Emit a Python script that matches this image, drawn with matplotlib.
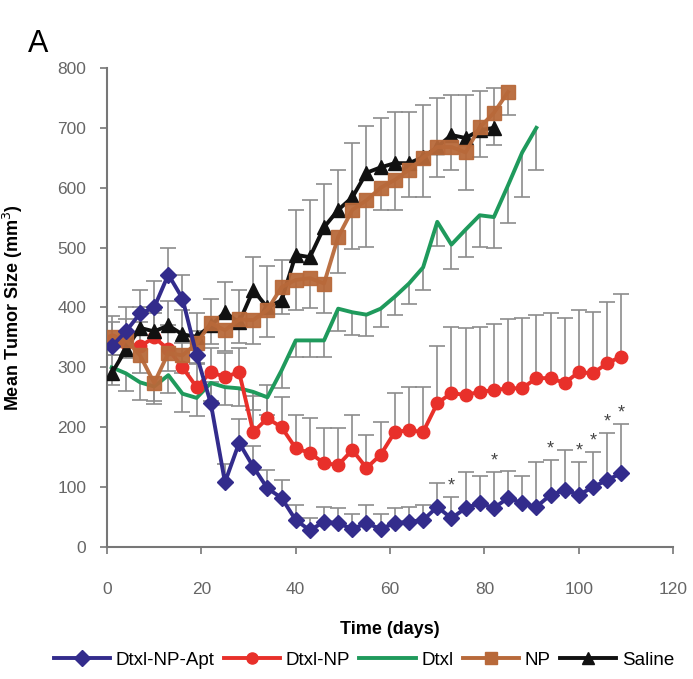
import matplotlib

matplotlib.use("Agg")
import matplotlib.pyplot as plt
from matplotlib.lines import Line2D
import numpy as np

plt.rcParams["font.family"] = ["Liberation Sans", "DejaVu Sans"]

# measurement days (every ~3 days)
days_apt = [1, 4, 7, 10, 13, 16, 19, 22, 25, 28, 31, 34, 37, 40, 43, 46, 49, 52, 55,
            58, 61, 64, 67, 70, 73, 76, 79, 82, 85, 88, 91, 94, 97, 100, 103, 106, 109]
days_np_dtxl = days_apt
days_dtxl = days_apt[:31]
days_saline = days_apt[:28]
days_np = days_apt[:29]

# Dtxl-NP-Apt (error bars up)
apt = [335, 360, 390, 400, 455, 415, 320, 240, 108, 174, 134, 98, 82, 45, 28, 42, 40, 30, 40,
       30, 40, 42, 45, 67, 48, 65, 73, 65, 82, 73, 67, 87, 95, 87, 100, 112, 123]
apt_err = [40, 40, 40, 45, 45, 40, 40, 35, 30, 40, 35, 30, 30, 25, 20, 25, 25, 25, 30,
           25, 25, 25, 25, 40, 35, 60, 45, 60, 45, 45, 75, 58, 67, 55, 59, 78, 82]

# Dtxl-NP (error bars up)
dtxl_np = [345, 340, 335, 350, 330, 300, 267, 292, 284, 292, 192, 215, 200, 165, 157, 140, 137,
           162, 132, 154, 192, 195, 192, 240, 257, 254, 259, 262, 265, 265, 282, 282, 274, 292,
           290, 307, 318]
dtxl_np_err = [40, 40, 40, 40, 40, 40, 40, 40, 40, 40, 60, 55, 50, 55, 58, 58, 61, 58, 55,
               55, 65, 72, 75, 95, 110, 112, 108, 110, 115, 118, 105, 108, 108, 103, 102, 102, 105]

# Dtxl (error bars down)
dtxl = [300, 290, 275, 268, 287, 256, 249, 274, 267, 265, 259, 250, 295, 345, 345, 345, 398,
        392, 388, 398, 418, 440, 467, 543, 505, 530, 554, 551, 604, 659, 700]
dtxl_err = [30, 30, 30, 30, 30, 30, 30, 30, 30, 30, 30, 30, 30, 28, 28, 28, 38, 38, 35, 30,
            30, 35, 38, 40, 40, 45, 53, 52, 63, 75, 71]

# NP (error bars down)
np_vals = [351, 346, 320, 274, 324, 320, 340, 374, 362, 380, 379, 396, 434, 446, 449, 440, 518,
           563, 579, 600, 613, 630, 650, 668, 668, 659, 701, 725, 760]
np_err = [30, 30, 30, 30, 30, 30, 35, 35, 35, 40, 40, 45, 45, 50, 50, 50, 60, 65, 78, 37, 50,
          46, 66, 50, 39, 63, 50, 54, 39]

# Saline (error bars up)
saline = [290, 330, 366, 360, 370, 355, 351, 370, 392, 375, 429, 400, 412, 488, 484, 534, 563,
          584, 625, 634, 641, 641, 651, 668, 688, 683, 696, 700]
saline_err = [30, 30, 35, 35, 40, 40, 40, 45, 50, 55, 55, 70, 67, 75, 95, 73, 66, 90, 78, 82,
              85, 85, 87, 82, 67, 72, 65, 66]

star_days = [73, 82, 94, 100, 103, 106, 109]

C_APT = "#332c8c"
C_DNP = "#e8302a"
C_DTXL = "#1f9a5c"
C_NP = "#b8693a"
C_SAL = "#111111"
C_ERR = "#8c8c8c"


def err_bars(ax, x, y, e, up=True):
    x = np.asarray(x, float)
    y = np.asarray(y, float)
    e = np.asarray(e, float)
    end = y + e if up else y - e
    ax.vlines(x, y, end, color=C_ERR, lw=1.2, zorder=1)
    ax.plot(x, end, ls="none", marker="_", ms=11, mew=1.2, color=C_ERR, zorder=1)


fig = plt.figure(figsize=(6.93, 6.79), dpi=100)
ax = fig.add_axes([0.1544, 0.1944, 0.817, 0.7055])

err_bars(ax, days_dtxl, dtxl, dtxl_err, up=False)
err_bars(ax, days_np, np_vals, np_err, up=False)
err_bars(ax, days_saline, saline, saline_err, up=True)
err_bars(ax, days_np_dtxl, dtxl_np, dtxl_np_err, up=True)
err_bars(ax, days_apt, apt, apt_err, up=True)

ax.plot(days_dtxl, dtxl, color=C_DTXL, lw=2.8, zorder=3)
ax.plot(days_np_dtxl, dtxl_np, color=C_DNP, lw=2.8, marker="o", ms=9, zorder=4)
ax.plot(days_saline, saline, color=C_SAL, lw=2.8, marker="^", ms=10, zorder=5)
ax.plot(days_np, np_vals, color=C_NP, lw=2.8, marker="s", ms=10, zorder=5, alpha=0.95)
ax.plot(days_apt, apt, color=C_APT, lw=2.8, marker="D", ms=8.5, zorder=6)

for d in star_days:
    i = days_apt.index(d)
    ax.text(d, apt[i] + apt_err[i] + 4, "*", ha="center", va="bottom",
            fontsize=13, color="#444444")

ax.set_xlim(0, 120)
ax.set_ylim(0, 800)
ax.set_xticks(range(0, 121, 20))
ax.set_yticks(range(0, 801, 100))
for s in ("top", "right"):
    ax.spines[s].set_visible(False)
for s in ("left", "bottom"):
    ax.spines[s].set_color("#777777")
    ax.spines[s].set_linewidth(1.5)
ax.tick_params(axis="both", colors="#777777", length=5, width=1.2, labelsize=12.5,
               labelcolor="#666666")
ax.tick_params(axis="x", pad=20)
ax.tick_params(axis="y", pad=10)

ax.set_ylabel("Mean Tumor Size (mm$^3$)", fontsize=13, fontweight="bold")
ax.yaxis.set_label_coords(-0.145, 0.5)
ax.set_xlabel("Time (days)", fontsize=13, fontweight="bold")
ax.xaxis.set_label_coords(0.5, -0.155)

fig.text(0.055, 0.935, "A", fontsize=22, ha="center", va="center")

handles = [
    Line2D([], [], color=C_APT, lw=2.8, marker="D", ms=8),
    Line2D([], [], color=C_DNP, lw=2.8, marker="o", ms=8),
    Line2D([], [], color=C_DTXL, lw=2.8),
    Line2D([], [], color=C_NP, lw=2.8, marker="s", ms=9),
    Line2D([], [], color=C_SAL, lw=2.8, marker="^", ms=9),
]
labels = ["Dtxl-NP-Apt", "Dtxl-NP", "Dtxl", "NP", "Saline"]
fig.legend(handles, labels, loc="center", bbox_to_anchor=(0.525, 0.028), ncol=5,
           frameon=False, fontsize=13.5, handlelength=3.0, handletextpad=0.3,
           columnspacing=0.5, borderpad=0)

fig.savefig("out.png", dpi=100)
